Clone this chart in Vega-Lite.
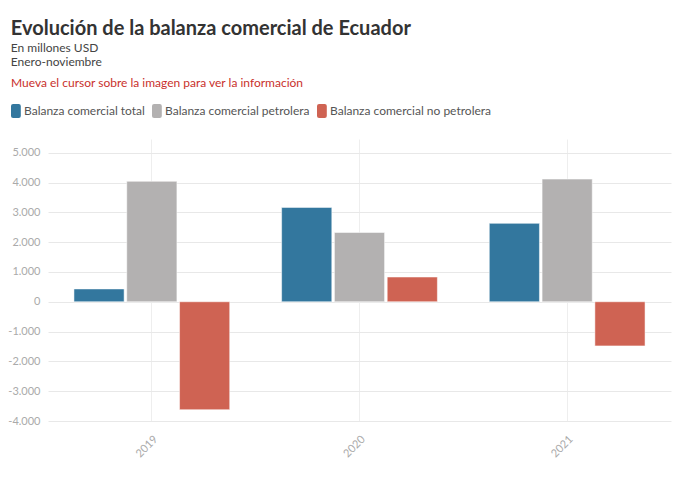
{
  "$schema": "https://vega.github.io/schema/vega-lite/v6.json",
  "width": 623,
  "height": 282,
  "autosize": {"type": "none"},
  "padding": {"left": 48, "top": 139, "right": 7, "bottom": 56},
  "background": "white",
  "config": {
    "font": "Lato",
    "view": {"stroke": null},
    "locale": {"number": {"decimal": ",", "thousands": ".", "grouping": [3], "currency": ["$", ""], "minus": "-"}}
  },
  "title": {
    "text": "Evolución de la balanza comercial de Ecuador",
    "subtitle": ["En millones USD", "Enero-noviembre"],
    "anchor": "start",
    "frame": "bounds",
    "dx": 3,
    "fontSize": 20,
    "fontWeight": "bold",
    "color": "#333333",
    "subtitleFontSize": 12,
    "subtitleColor": "#444444",
    "subtitlePadding": 4,
    "subtitleLineHeight": 14,
    "offset": 10
  },
  "data": {
    "values": [
      {"anio": "2019", "serie": "Balanza comercial total", "valor": 430},
      {"anio": "2019", "serie": "Balanza comercial petrolera", "valor": 4040},
      {"anio": "2019", "serie": "Balanza comercial no petrolera", "valor": -3620},
      {"anio": "2020", "serie": "Balanza comercial total", "valor": 3165},
      {"anio": "2020", "serie": "Balanza comercial petrolera", "valor": 2325},
      {"anio": "2020", "serie": "Balanza comercial no petrolera", "valor": 830},
      {"anio": "2021", "serie": "Balanza comercial total", "valor": 2630},
      {"anio": "2021", "serie": "Balanza comercial petrolera", "valor": 4115},
      {"anio": "2021", "serie": "Balanza comercial no petrolera", "valor": -1480}
    ]
  },
  "mark": {"type": "bar", "stroke": "white", "strokeWidth": 1, "strokeOpacity": 0.5},
  "encoding": {
    "x": {
      "field": "anio",
      "type": "nominal",
      "scale": {"paddingInner": 0.25, "paddingOuter": 0.125},
      "axis": {
        "title": null,
        "grid": true,
        "gridColor": "#eeeeee",
        "domain": false,
        "ticks": false,
        "labelAngle": -45,
        "labelColor": "#aaaaaa",
        "labelFontSize": 11,
        "labelPadding": 12
      }
    },
    "xOffset": {
      "field": "serie",
      "type": "nominal",
      "sort": ["Balanza comercial total", "Balanza comercial petrolera", "Balanza comercial no petrolera"],
      "scale": {"paddingInner": 0.05, "paddingOuter": 0}
    },
    "y": {
      "field": "valor",
      "type": "quantitative",
      "scale": {"domain": [-4000, 5460], "nice": false},
      "axis": {
        "title": null,
        "values": [-4000, -3000, -2000, -1000, 0, 1000, 2000, 3000, 4000, 5000],
        "format": ",.0f",
        "grid": true,
        "gridColor": "#e8e8e8",
        "domain": false,
        "ticks": false,
        "labelColor": "#aaaaaa",
        "labelFontSize": 11,
        "labelPadding": 8
      }
    },
    "color": {
      "field": "serie",
      "type": "nominal",
      "sort": ["Balanza comercial total", "Balanza comercial petrolera", "Balanza comercial no petrolera"],
      "scale": {
        "domain": ["Balanza comercial total", "Balanza comercial petrolera", "Balanza comercial no petrolera"],
        "range": ["#33779e", "#b3b1b1", "#cf6353"]
      },
      "legend": {
        "title": "Mueva el cursor sobre la imagen para ver la información",
        "titleColor": "#c9302c",
        "titleFontSize": 12,
        "titleFontWeight": "normal",
        "titlePadding": 14,
        "titleLimit": 600,
        "orient": "none",
        "legendX": -37,
        "legendY": -61,
        "direction": "horizontal",
        "symbolType": "M-1,-1H0.1Q0.4,-1 0.4,-0.7V0.7Q0.4,1 0.1,1H-0.7Q-1,1 -1,0.7V-0.7Q-1,-1 -0.7,-1Z",
        "symbolSize": 196,
        "symbolStrokeWidth": 0,
        "symbolOpacity": 1,
        "labelFontSize": 12,
        "labelColor": "#555555",
        "labelOffset": -1,
        "columnPadding": 7,
        "labelLimit": 300
      }
    }
  }
}
